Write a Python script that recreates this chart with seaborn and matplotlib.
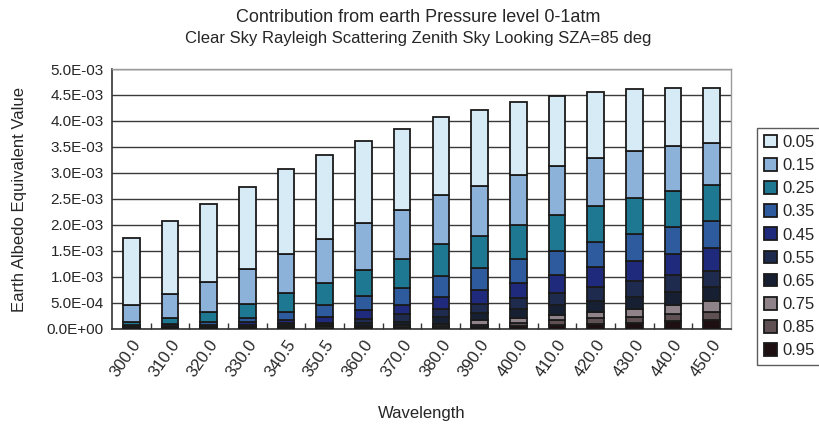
import numpy as np
import pandas as pd
import matplotlib
matplotlib.use("Agg")
import matplotlib.pyplot as plt
from matplotlib.ticker import FuncFormatter, MultipleLocator, FixedLocator
import seaborn as sns

# Wavelength categories (nm)
wavelengths = ["300.0", "310.0", "320.0", "330.0", "340.5", "350.5", "360.0", "370.0",
               "380.0", "390.0", "400.0", "410.0", "420.0", "430.0", "440.0", "450.0"]

# Pressure-level labels, top of stack first
levels = ["0.05", "0.15", "0.25", "0.35", "0.45", "0.55", "0.65", "0.75", "0.85", "0.95"]

# Contribution of each pressure level (units of 1e-3)
p005 = [1.29, 1.41, 1.50, 1.59, 1.63, 1.61, 1.59, 1.56, 1.50, 1.47, 1.41, 1.35, 1.26, 1.19, 1.13, 1.06]
p015 = [0.33, 0.45, 0.58, 0.67, 0.75, 0.85, 0.90, 0.93, 0.95, 0.96, 0.96, 0.94, 0.92, 0.92, 0.86, 0.81]
p025 = [0.05, 0.12, 0.19, 0.27, 0.37, 0.43, 0.50, 0.57, 0.62, 0.62, 0.66, 0.69, 0.69, 0.69, 0.68, 0.68]
p035 = [0.03, 0.04, 0.055, 0.08, 0.15, 0.22, 0.26, 0.32, 0.39, 0.42, 0.45, 0.46, 0.48, 0.51, 0.52, 0.53]
p045 = [0.015, 0.02, 0.03, 0.05, 0.06, 0.12, 0.18, 0.18, 0.23, 0.27, 0.30, 0.34, 0.39, 0.39, 0.42, 0.43]
p055 = [0.015, 0.015, 0.02, 0.03, 0.04, 0.04, 0.08, 0.14, 0.15, 0.18, 0.21, 0.24, 0.28, 0.30, 0.31, 0.32]
p065 = [0.008, 0.01, 0.015, 0.02, 0.03, 0.03, 0.05, 0.07, 0.14, 0.13, 0.17, 0.19, 0.21, 0.24, 0.25, 0.27]
p075 = [0.006, 0.007, 0.01, 0.014, 0.02, 0.025, 0.03, 0.03, 0.05, 0.09, 0.10, 0.10, 0.11, 0.14, 0.18, 0.20]
p085 = [0.003, 0.004, 0.005, 0.009, 0.01, 0.013, 0.015, 0.02, 0.025, 0.045, 0.06, 0.09, 0.11, 0.12, 0.14, 0.16]
p095 = [0.003, 0.004, 0.005, 0.007, 0.01, 0.012, 0.015, 0.02, 0.025, 0.035, 0.05, 0.08, 0.10, 0.12, 0.15, 0.17]

series = [p005, p015, p025, p035, p045, p055, p065, p075, p085, p095]
unit = 1e-3

colors = ["#d6ebf6", "#8db2da", "#1f7892", "#2d5b9e", "#1f2a7c", "#1f2b4e",
          "#172033", "#8f8288", "#5f5153", "#1e1012"]
palette = dict(zip(levels, colors))

rows = []
for lev, vals in zip(levels, series):
    for i, v in enumerate(vals):
        rows.append({"pos": i, "level": lev, "value": v * unit})
df = pd.DataFrame(rows)

sns.set_theme(style="white")
plt.rcParams["font.family"] = ["Liberation Sans", "DejaVu Sans"]

fig = plt.figure(figsize=(8.2, 4.25), dpi=100)
ax = fig.add_axes([112 / 820, 1 - 329 / 425, (731 - 112) / 820, (329 - 69) / 425])

sns.histplot(data=df, x="pos", weights="value", hue="level", hue_order=levels,
             multiple="stack", discrete=True, shrink=0.43, palette=palette,
             alpha=1, edgecolor="#1a1a1a", linewidth=1.3, ax=ax, zorder=3)

ax.set_xlim(-0.5, len(wavelengths) - 0.5)
ax.set_ylim(0, 5.0e-3)
ax.yaxis.set_major_locator(MultipleLocator(0.5e-3))
ax.yaxis.set_major_formatter(FuncFormatter(lambda v, p: "{:.1E}".format(v)))
ax.grid(axis="y", color="#3a3a3a", linewidth=1.0, zorder=0)
ax.set_axisbelow(True)

ax.set_xticks(range(len(wavelengths)))
ax.set_xticklabels(wavelengths, rotation=55, ha="right", rotation_mode="anchor", fontsize=12)
ax.tick_params(axis="x", which="major", length=0, pad=6)
ax.xaxis.set_minor_locator(FixedLocator(np.arange(0.5, len(wavelengths) - 1, 1.0)))
ax.tick_params(axis="x", which="minor", direction="in", length=4, width=1, color="#333333", bottom=True)
ax.tick_params(axis="y", labelsize=11, length=0, pad=6)

for side in ["left", "bottom"]:
    ax.spines[side].set_color("#333333")
    ax.spines[side].set_linewidth(1.2)
for side in ["top", "right"]:
    ax.spines[side].set_color("#9a9a9a")
    ax.spines[side].set_linewidth(1.0)

ax.set_xlabel("Wavelength", fontsize=12, labelpad=19)
ax.set_ylabel("Earth Albedo Equivalent Value", fontsize=12, labelpad=14)

fig.text(0.51, 1 - 18 / 425, "Contribution from earth Pressure level 0-1atm",
         ha="center", va="center", fontsize=13)
fig.text(0.51, 1 - 38 / 425, "Clear Sky Rayleigh Scattering Zenith Sky Looking SZA=85 deg",
         ha="center", va="center", fontsize=12)

sns.move_legend(ax, "upper left", bbox_to_anchor=(757 / 820, 1 - 128 / 425),
                bbox_transform=fig.transFigure, title=None, frameon=True,
                fancybox=False, edgecolor="#333333", fontsize=12,
                handlelength=0.8, handleheight=0.8, handletextpad=0.3,
                labelspacing=0.48, borderpad=0.4, borderaxespad=0)

fig.savefig("out.png", dpi=100)
